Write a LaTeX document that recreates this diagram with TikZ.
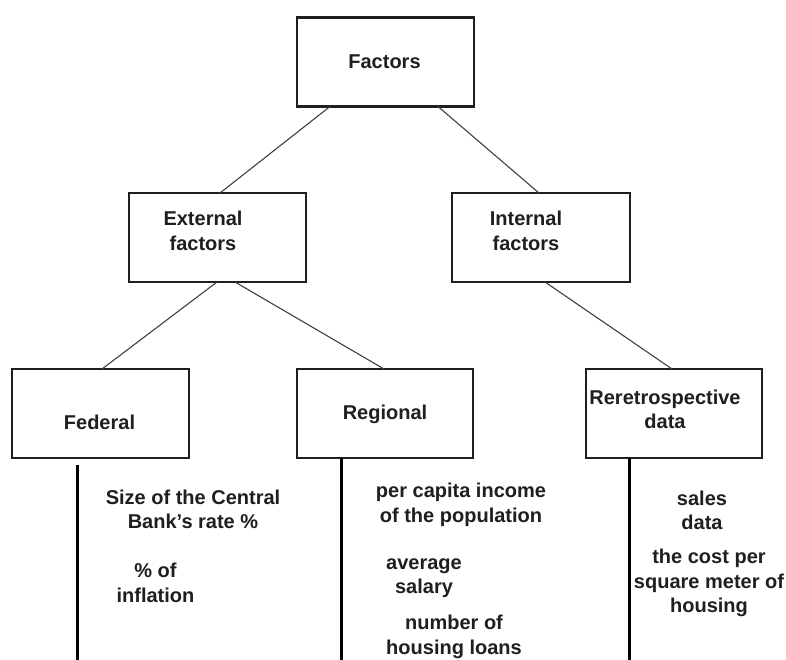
\documentclass[tikz,border=0pt]{standalone}
\usepackage{fontspec}
\setmainfont{Liberation Sans}
\begin{document}
\begin{tikzpicture}[x=1pt,y=-1pt,
  box/.style={draw=black!88, line width=2.4pt, rectangle, minimum width=177pt, minimum height=89pt, inner sep=0pt, outer sep=0pt},
  lbl/.style={inner sep=0pt, outer sep=0pt, align=center, text=black!88, font=\fontsize{20}{24.5}\selectfont\bfseries},
  conn/.style={draw=black!75, line width=1.1pt},
  stem/.style={draw=black, line width=3pt}
]
\useasboundingbox[fill=white] (0,0) rectangle (786,660);
% boxes
\node[box] (fac) at (385.5,62) {};
\node[box] (ext) at (217.5,237.5) {};
\node[box, minimum width=178pt] (int) at (541,237.5) {};
\node[box] (fed) at (100.5,413.5) {};
\node[box, minimum width=176pt] (reg) at (385,413.5) {};
\node[box, minimum width=176pt] (ret) at (674,413.5) {};
% box texts
\node[lbl] (tfac) at (384.5,62) {Factors};
\node[lbl] (text) at (203,231) {External\\factors};
\node[lbl] (tint) at (526,231) {Internal\\factors};
\node[lbl] (tfed) at (99.5,422) {Federal};
\node[lbl] (treg) at (385,414) {Regional};
\node[lbl] (tret) at (665,409.5) {Reretrospective\\data};
% item texts
\node[lbl] (t1) at (193,509.5) {Size of the Central\\Bank’s rate \%};
\node[lbl] (t2) at (155.5,583) {\% of\\inflation};
\node[lbl] (t3) at (461,505) {per capita income\\of the population};
\node[lbl] (t4) at (424,578) {average\\salary};
\node[lbl] (t5) at (454,637) {number of\\housing loans};
\node[lbl] (t6) at (702,510.5) {sales\\data};
\node[lbl] (t7) at (709,583) {the cost per\\square meter of\\housing};
% connectors
\draw[conn] ([xshift=33pt]fac.south west) -- ([xshift=91pt]ext.north west);
\draw[conn] ([xshift=141pt]fac.south west) -- ([xshift=87pt]int.north west);
\draw[conn] ([xshift=88pt]ext.south west) -- ([xshift=90pt]fed.north west);
\draw[conn] ([xshift=106pt]ext.south west) -- ([xshift=87pt]reg.north west);
\draw[conn] ([xshift=93pt]int.south west) -- ([xshift=86pt]ret.north west);
% stems
\coordinate (fedend) at (77,660);
\coordinate (regend) at (341,660);
\coordinate (retend) at (629,660);
\draw[stem] ([xshift=65pt,yshift=-7pt]fed.south west) -- (fedend);
\draw[stem] ([xshift=44pt]reg.south west) -- (regend);
\draw[stem] ([xshift=43pt]ret.south west) -- (retend);
\end{tikzpicture}
\end{document}
